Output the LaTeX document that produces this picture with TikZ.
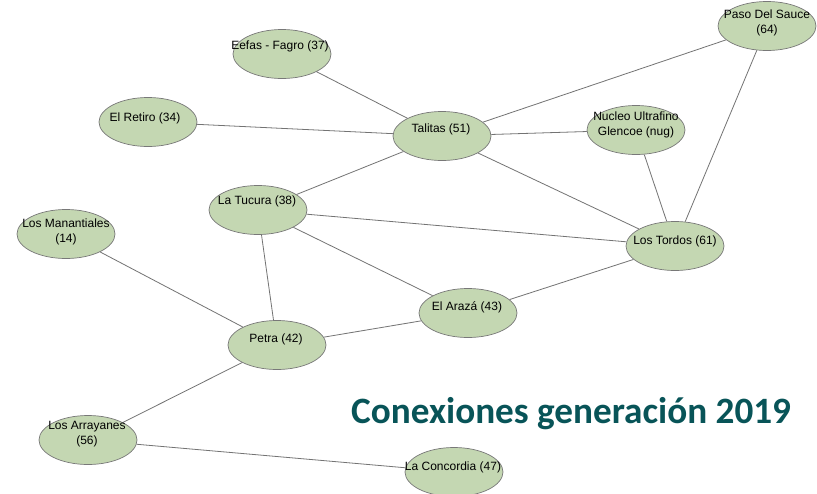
\documentclass[tikz,border=0pt]{standalone}
\usepackage{fontspec}
\setmainfont{Liberation Sans}
\newfontfamily\titlefont{Carlito}
\usetikzlibrary{shapes.geometric}
\pgfdeclarelayer{bg}
\pgfsetlayers{bg,main}
\definecolor{nodefill}{RGB}{196,215,178}
\definecolor{nodeline}{RGB}{120,120,120}
\definecolor{edgecol}{RGB}{115,115,115}
\definecolor{titlecol}{RGB}{8,84,88}
\begin{document}
\begin{tikzpicture}[x=1pt,y=-1pt,
  gnode/.style={ellipse, draw=nodeline, fill=nodefill, minimum width=98pt, minimum height=49pt, inner sep=0pt, line width=0.7pt},
  glabel/.style={font=\fontsize{12}{14.5}\selectfont, align=center, inner sep=0pt, text=black},
  link/.style={draw=edgecol, line width=0.8pt}]
\path[use as bounding box, clip] (0,0) rectangle (817,493);

% ellipses
\node[gnode] (eefas) at (282,54) {};
\node[gnode] (talitas) at (442,136) {};
\node[gnode] (paso) at (767,26) {};
\node[gnode] (retiro) at (148,122) {};
\node[gnode] (nucleo) at (636,130) {};
\node[gnode] (tucura) at (258,210) {};
\node[gnode] (manant) at (66,234) {};
\node[gnode] (tordos) at (675,246) {};
\node[gnode] (araza) at (468,313) {};
\node[gnode] (petra) at (277,345) {};
\node[gnode] (arrayanes) at (88,440) {};
\node[gnode] (concordia) at (454,472) {};

% labels
\node[glabel] (eefas-l) at (280,46) {Eefas - Fagro (37)};
\node[glabel] (talitas-l) at (441,129) {Talitas (51)};
\node[glabel] (paso-l) at (767,23) {Paso Del Sauce\\(64)};
\node[glabel] (retiro-l) at (145,118) {El Retiro (34)};
\node[glabel] (nucleo-l) at (636,125) {Nucleo Ultrafino\\Glencoe (nug)};
\node[glabel] (tucura-l) at (257,201) {La Tucura (38)};
\node[glabel] (manant-l) at (66,232) {Los Manantiales\\(14)};
\node[glabel] (tordos-l) at (675,241) {Los Tordos (61)};
\node[glabel] (araza-l) at (467,307) {El Arazá (43)};
\node[glabel] (petra-l) at (276,339) {Petra (42)};
\node[glabel] (arrayanes-l) at (87,434) {Los Arrayanes\\(56)};
\node[glabel] (concordia-l) at (453,467) {La Concordia (47)};

% title
\node[font=\titlefont\bfseries\fontsize{37.2}{42}\selectfont, text=titlecol, inner sep=0pt, anchor=base west] (title) at (351,423) {Conexiones generación 2019};

% edges
\begin{pgfonlayer}{bg}
\fill[white] (0,0) rectangle (817,493);
\draw[link] (eefas) -- (talitas);
\draw[link] (retiro) -- (talitas);
\draw[link] (talitas) -- (paso);
\draw[link] (talitas) -- (nucleo);
\draw[link] (talitas) -- (tucura);
\draw[link] (talitas) -- (tordos);
\draw[link] (paso) -- (tordos);
\draw[link] (nucleo) -- (tordos);
\draw[link] (tucura) -- (tordos);
\draw[link] (tucura) -- (araza);
\draw[link] (tucura) -- (petra);
\draw[link] (tordos) -- (araza);
\draw[link] (araza) -- (petra);
\draw[link] (manant) -- (petra);
\draw[link] (petra) -- (arrayanes);
\draw[link] (arrayanes) -- (concordia);
\end{pgfonlayer}
\end{tikzpicture}
\end{document}
